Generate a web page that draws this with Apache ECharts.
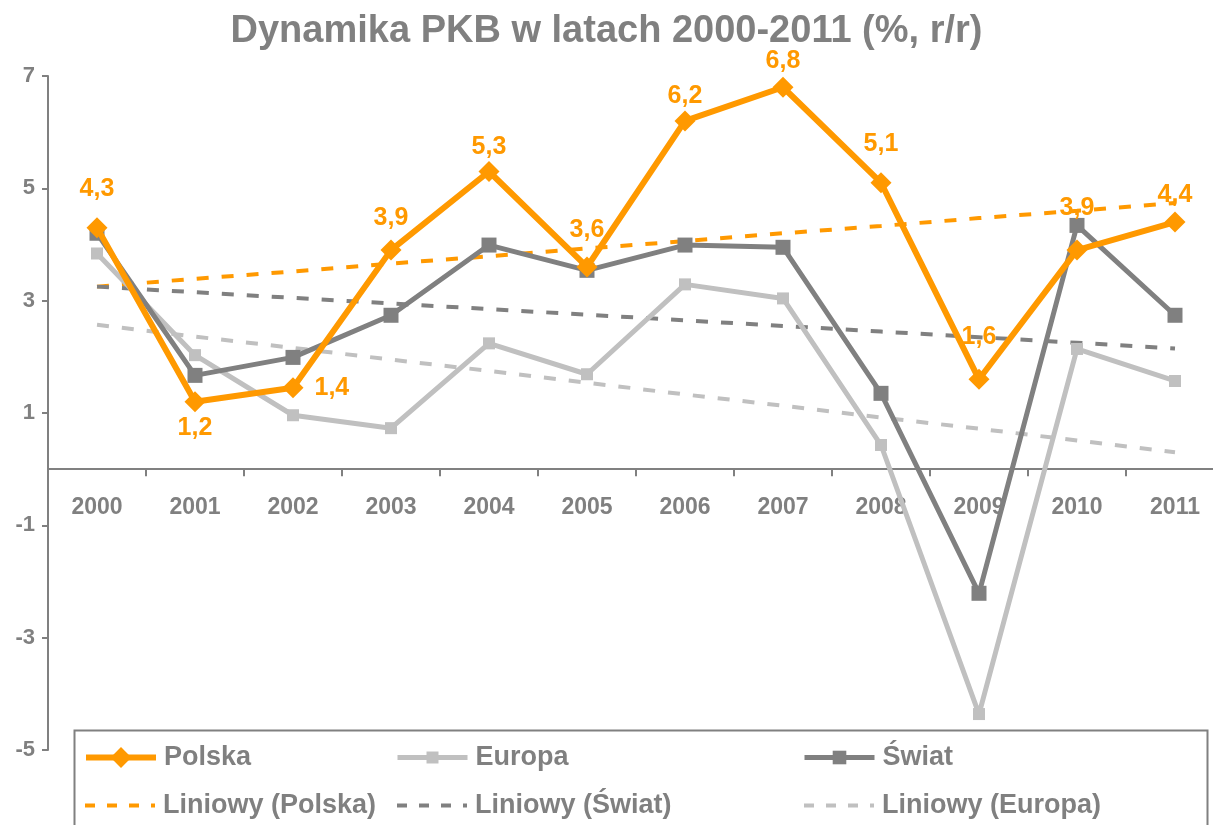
<!DOCTYPE html>
<html>
<head>
<meta charset="utf-8">
<title>Dynamika PKB</title>
<script src="https://cdn.jsdelivr.net/npm/echarts@6/dist/echarts.min.js"></script>
<style>
    html, body {margin: 0; padding: 0; background: #fff;}
    #chart {width: 1213px; height: 825px;}
</style>
</head>
<body>
<div id="chart"></div>
<script type="text/javascript">
    // lata
    var years = ['2000', '2001', '2002', '2003', '2004', '2005', '2006', '2007', '2008', '2009', '2010', '2011'];
    // dynamika PKB, % r/r
    var polska = [4.3, 1.2, 1.45, 3.9, 5.3, 3.6, 6.2, 6.8, 5.1, 1.6, 3.9, 4.4];
    var europa = [3.84, 2.03, 0.96, 0.73, 2.24, 1.69, 3.29, 3.04, 0.43, -4.36, 2.14, 1.57];
    var swiat = [4.2, 1.67, 1.99, 2.74, 3.99, 3.54, 3.99, 3.95, 1.35, -2.21, 4.34, 2.74];
    // linie trendu
    var trendPolska = [3.25, 3.39, 3.52, 3.66, 3.79, 3.93, 4.06, 4.2, 4.33, 4.47, 4.6, 4.74];
    var trendSwiat = [3.25, 3.15, 3.05, 2.95, 2.85, 2.75, 2.65, 2.55, 2.45, 2.35, 2.25, 2.15];
    var trendEuropa = [2.57, 2.36, 2.16, 1.95, 1.75, 1.54, 1.33, 1.13, 0.92, 0.72, 0.51, 0.3];
    // podzialka osi Y
    var yMin = -5, yMax = 7, yStep = 2;

    // ulozenie etykiet Polski (pozycja, odstep)
    var labelPos = ['top', 'bottom', 'right', 'top', 'top', 'top', 'top', 'top', 'top', 'top', 'top', 'top'];
    var labelDist = [16, 3, 11, 9, 1, 14, 2, 3, 16, 19, 19, 4];

    var orange = '#FF9900';
    var darkGray = '#808080';
    var lightGray = '#C0C0C0';
    var font = 'Liberation Sans, Arial, sans-serif';

    function fmt(v) {
        return v.toFixed(1).replace('.', ',');
    }

    function legendAt(name, left, top, lineWidth, iconH, dashed) {
        return {
            data: [name],
            left: left,
            top: top,
            padding: 0,
            itemWidth: 70,
            itemHeight: iconH,
            itemGap: 0,
            lineStyle: {width: lineWidth, type: dashed ? [10, 12] : 'solid'},
            itemStyle: dashed ? {opacity: 0} : {},
            textStyle: {color: darkGray, fontSize: 27, fontWeight: 'bold', fontFamily: font, padding: [0, 0, 0, 3]}
        };
    }

    var polskaData = polska.map(function (v, i) {
        return {value: v, label: {position: labelPos[i], distance: labelDist[i]}};
    });

    var myChart = echarts.init(document.getElementById('chart'));
    var option = {
        animation: false,
        title: {
            text: 'Dynamika PKB w latach 2000-2011 (%, r/r)',
            left: 'center',
            top: 8,
            textStyle: {color: darkGray, fontSize: 38, fontWeight: 'bold', fontFamily: font}
        },
        grid: {left: 48, width: 1176, top: 76, height: 674, outerBoundsMode: 'none', containLabel: false},
        legend: [
            legendAt('Polska', 83, 744, 6, 26, false),
            legendAt('Europa', 395, 744, 5, 15, false),
            legendAt('Świat', 802, 744, 5, 17, false),
            legendAt('Liniowy (Polska)', 83, 792, 4, 18, true),
            legendAt('Liniowy (Świat)', 395, 792, 4, 18, true),
            legendAt('Liniowy (Europa)', 802, 792, 4, 18, true)
        ],
        graphic: [{
            type: 'rect',
            left: 72,
            top: 728,
            shape: {width: 1133, height: 120},
            style: {fill: 'none', stroke: darkGray, lineWidth: 2},
            z: -1
        }],
        xAxis: {
            type: 'category',
            data: years,
            boundaryGap: true,
            // os X przecina Y w zerze
            offset: -(0 - yMin) / (yMax - yMin) * 674,
            axisLine: {onZero: false, lineStyle: {color: darkGray, width: 2}},
            axisTick: {show: true, length: 7, lineStyle: {color: darkGray, width: 2}},
            axisLabel: {color: darkGray, fontSize: 23, fontWeight: 'bold', fontFamily: font, margin: 27, interval: 0},
            splitLine: {show: false}
        },
        yAxis: {
            type: 'value',
            min: yMin,
            max: yMax,
            interval: yStep,
            axisLine: {show: true, lineStyle: {color: darkGray, width: 2}},
            axisTick: {show: true, length: 6, lineStyle: {color: darkGray, width: 2}},
            axisLabel: {color: darkGray, fontSize: 22, fontWeight: 'bold', fontFamily: font, margin: 13},
            splitLine: {show: false}
        },
        series: [
            {
                name: 'Liniowy (Polska)', type: 'line', data: trendPolska, symbol: 'none',
                lineStyle: {color: orange, width: 4, type: [12, 13]}, itemStyle: {color: orange}, z: 1
            },
            {
                name: 'Liniowy (Świat)', type: 'line', data: trendSwiat, symbol: 'none',
                lineStyle: {color: darkGray, width: 4, type: [12, 13]}, itemStyle: {color: darkGray}, z: 1
            },
            {
                name: 'Liniowy (Europa)', type: 'line', data: trendEuropa, symbol: 'none',
                lineStyle: {color: lightGray, width: 4, type: [12, 13]}, itemStyle: {color: lightGray}, z: 1
            },
            {
                name: 'Europa', type: 'line', data: europa, symbol: 'rect', symbolSize: 12,
                lineStyle: {color: lightGray, width: 5}, itemStyle: {color: lightGray}, z: 2
            },
            {
                name: 'Świat', type: 'line', data: swiat, symbol: 'rect', symbolSize: 15,
                lineStyle: {color: darkGray, width: 5}, itemStyle: {color: darkGray}, z: 3
            },
            {
                name: 'Polska', type: 'line', data: polskaData, symbol: 'diamond', symbolSize: 21,
                lineStyle: {color: orange, width: 6}, itemStyle: {color: orange}, z: 4,
                label: {
                    show: true, color: orange, fontSize: 25, fontWeight: 'bold', fontFamily: font,
                    formatter: function (p) { return fmt(p.value); }
                }
            }
        ]
    };
    myChart.setOption(option);
</script>
</body>
</html>
